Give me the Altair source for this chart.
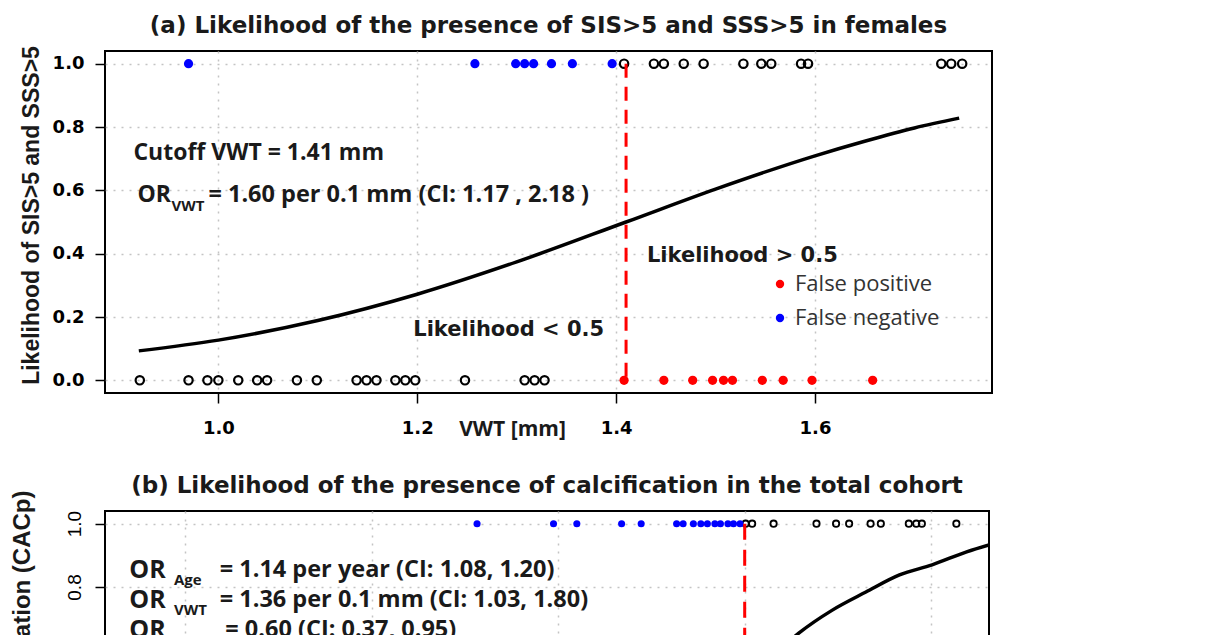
import altair as alt
import pandas as pd

# ---------------- Panel (a): females, VWT [mm] values ----------------
a_true_pos = [1.408, 1.438, 1.448, 1.468, 1.488, 1.528, 1.546, 1.556, 1.586, 1.593, 1.727, 1.737, 1.748]
a_false_neg = [0.970, 1.258, 1.299, 1.308, 1.317, 1.335, 1.356, 1.396]
a_true_neg = [0.921, 0.970, 0.989, 1.000, 1.020, 1.039, 1.049, 1.079, 1.099, 1.139, 1.149, 1.159,
              1.178, 1.188, 1.198, 1.248, 1.308, 1.318, 1.328]
a_false_pos = [1.408, 1.448, 1.477, 1.497, 1.508, 1.517, 1.547, 1.568, 1.597, 1.658]

a_curve_vwt = [0.92, 1.00, 1.10, 1.20, 1.30, 1.41, 1.50, 1.60, 1.65, 1.70, 1.745]
a_curve_p = [0.093, 0.127, 0.189, 0.272, 0.374, 0.50, 0.604, 0.709, 0.755, 0.797, 0.828]
a_cutoff = [1.41]

# ---------------- Panel (b): total cohort ----------------
b_false_neg = [1.313, 1.395, 1.420, 1.468, 1.489, 1.527, 1.534, 1.545, 1.553, 1.560, 1.568, 1.574,
               1.582, 1.588, 1.595]
b_true_pos = [1.601, 1.608, 1.631, 1.677, 1.698, 1.712, 1.735, 1.746, 1.776, 1.784, 1.790, 1.827]
b_curve_x = [1.60, 1.63, 1.658, 1.694, 1.730, 1.766, 1.801, 1.838, 1.862]
b_curve_p = [0.50, 0.58, 0.654, 0.727, 0.784, 0.838, 0.870, 0.911, 0.933]
b_cutoff = [1.60]

x_ticks_a = [1.0, 1.2, 1.4, 1.6]
x_ticks_b = [1.0, 1.2, 1.4, 1.6, 1.8]
y_ticks = [0.0, 0.2, 0.4, 0.6, 0.8, 1.0]

ARIAL = "Liberation Sans"
WIDE = "DejaVu Sans"
CAL = "Open Sans"
TXT = "#1a1a1a"

# ---------------- tables ----------------
pts_a = pd.DataFrame({
    "vwt": a_true_pos + a_false_neg + a_true_neg + a_false_pos,
    "p": [1.0] * len(a_true_pos) + [1.0] * len(a_false_neg) + [0.0] * len(a_true_neg) + [0.0] * len(a_false_pos),
    "kind": ["Correct"] * len(a_true_pos) + ["False negative"] * len(a_false_neg)
            + ["Correct"] * len(a_true_neg) + ["False positive"] * len(a_false_pos),
})
curve_a = pd.DataFrame({"vwt": a_curve_vwt, "p": a_curve_p})
cut_a = pd.DataFrame({"vwt": a_cutoff, "lo": [0.0], "hi": [1.0]})

pts_b = pd.DataFrame({
    "vwt": b_false_neg + b_true_pos,
    "p": [1.0] * (len(b_false_neg) + len(b_true_pos)),
    "kind": ["False negative"] * len(b_false_neg) + ["Correct"] * len(b_true_pos),
})
curve_b = pd.DataFrame({"vwt": b_curve_x, "p": b_curve_p})
cut_b = pd.DataFrame({"vwt": b_cutoff, "lo": [0.0], "hi": [1.0]})


def label(text, x, y, font=CAL, size=20, weight="bold", align="left", color=TXT):
    return alt.Chart(pd.DataFrame({"t": [text]})).mark_text(
        font=font, fontSize=size, fontWeight=weight, align=align, baseline="middle", color=color
    ).encode(x=alt.datum(x), y=alt.datum(y), text="t:N")


# ---------------- panel (a) ----------------
xa = alt.X("vwt:Q", scale=alt.Scale(domain=[0.886, 1.778], nice=False, zero=False),
           axis=alt.Axis(values=x_ticks_a, format=".1f", labelFont=WIDE, labelFontSize=18,
                         labelFontWeight="bold", labelPadding=16, title="VWT [mm]",
                         titleFont=CAL, titleFontSize=21, titleFontWeight="bold",
                         titleX=407, titleY=36, titleAlign="center", titleBaseline="middle"))
ya = alt.Y("p:Q", scale=alt.Scale(domain=[-0.04, 1.04], nice=False),
           axis=alt.Axis(values=y_ticks, format=".1f", labelFont=WIDE, labelFontSize=18,
                         labelFontWeight="bold", labelPadding=11, title="Likelihood of SIS>5 and SSS>5",
                         titleFont=ARIAL, titleFontSize=23, titleFontWeight="bold",
                         minExtent=55, maxExtent=55, titlePadding=7, titleY=164))

base_a = alt.Chart(pts_a)
black_a = base_a.transform_filter(alt.datum.kind == "Correct").mark_point(
    filled=False, color="black", size=70, strokeWidth=2.2, opacity=1).encode(x=xa, y=ya)
col_a = base_a.transform_filter(alt.datum.kind != "Correct").mark_point(
    filled=True, size=85, opacity=1).encode(
    x="vwt:Q", y="p:Q",
    color=alt.Color("kind:N", scale=alt.Scale(domain=["False positive", "False negative"], range=["red", "blue"]),
                    legend=alt.Legend(orient="none", legendX=664, legendY=222, title=None,
                                      values=["False positive", "False negative"],
                                      labelFont=CAL, labelFontSize=22, labelColor="#333333",
                                      symbolType="circle", symbolSize=70, symbolStrokeWidth=0,
                                      rowPadding=12, labelOffset=4)))
line_a = alt.Chart(curve_a).mark_line(color="black", strokeWidth=3.5, interpolate="monotone").encode(
    x="vwt:Q", y="p:Q")
rule_a = alt.Chart(cut_a).mark_rule(color="#ff0000", strokeWidth=3, strokeDash=[14, 9]).encode(
    x="vwt:Q", y="hi:Q", y2="lo:Q")

ann_a = [
    label("Cutoff VWT = 1.41 mm", 0.9146, 0.719, size=23),
    label("OR", 0.9186, 0.584, size=23),
    label("VWT", 0.9528, 0.552, size=15),
    label("= 1.60 per 0.1 mm (CI: 1.17 , 2.18 )", 0.990, 0.584, size=23.5),
    label("Likelihood < 0.5", 1.196, 0.158, font=WIDE, size=21),
    label("Likelihood > 0.5", 1.431, 0.394, font=WIDE, size=21),
]

panel_a = alt.layer(black_a, col_a, line_a, rule_a, *ann_a).properties(
    width=887, height=342,
    title=alt.TitleParams("(a) Likelihood of the presence of SIS>5 and SSS>5 in females",
                          font=WIDE, fontSize=23, fontWeight="bold", anchor="middle",
                          frame="group", offset=8, color=TXT))

# ---------------- panel (b) ----------------
xb = alt.X("vwt:Q", scale=alt.Scale(domain=[0.914, 1.862], nice=False, zero=False),
           axis=alt.Axis(values=x_ticks_b, format=".1f", labelFont=ARIAL, labelFontSize=19,
                         labelPadding=10, title="VWT [mm]", titleFont=ARIAL, titleFontSize=20))
yb = alt.Y("p:Q", scale=alt.Scale(domain=[-0.04, 1.04], nice=False),
           axis=alt.Axis(values=y_ticks, format=".1f", labelFont=ARIAL, labelFontSize=19,
                         labelFontWeight="normal", labelAngle=-90, labelAlign="center",
                         labelBaseline="bottom", labelPadding=11,
                         title="Likelihood of calcification (CACp)",
                         titleFont=ARIAL, titleFontSize=24, titleFontWeight="bold",
                         minExtent=55, maxExtent=55, titlePadding=16))

base_b = alt.Chart(pts_b)
black_b = base_b.transform_filter(alt.datum.kind == "Correct").mark_point(
    filled=False, color="black", size=40, strokeWidth=1.8, opacity=1, clip=True).encode(x=xb, y=yb)
blue_b = base_b.transform_filter(alt.datum.kind == "False negative").mark_point(
    filled=True, color="blue", size=50, opacity=1, clip=True).encode(x="vwt:Q", y="p:Q")
line_b = alt.Chart(curve_b).mark_line(color="black", strokeWidth=3.5, interpolate="monotone", clip=True).encode(
    x="vwt:Q", y="p:Q")
rule_b = alt.Chart(cut_b).mark_rule(color="#ff0000", strokeWidth=3, strokeDash=[16, 10]).encode(
    x="vwt:Q", y="hi:Q", y2="lo:Q")

ann_b = [
    label("OR", 0.940, 0.854, size=25),
    label("Age", 0.988, 0.822, size=15),
    label("= 1.14 per year (CI: 1.08, 1.20)", 1.037, 0.854, size=23.5),
    label("OR", 0.940, 0.759, size=25),
    label("VWT", 0.988, 0.727, size=15),
    label("= 1.36 per 0.1 mm (CI: 1.03, 1.80)", 1.037, 0.759, size=23.5),
    label("OR", 0.940, 0.663, size=25),
    label("Gender", 0.988, 0.631, size=15),
    label("= 0.60 (CI: 0.37, 0.95)", 1.043, 0.663, size=23.5),
]

panel_b = alt.layer(black_b, blue_b, line_b, rule_b, *ann_b).properties(
    width=884, height=342,
    title=alt.TitleParams("(b) Likelihood of the presence of calcification in the total cohort",
                          font=WIDE, fontSize=23, fontWeight="bold", anchor="middle",
                          frame="group", offset=-8, color=TXT))

chart = alt.vconcat(panel_a, panel_b, spacing=118, bounds="flush").resolve_legend(
    color="independent").properties(
    padding={"left": 1, "top": 5, "right": 5, "bottom": 5}, background="white"
).configure_view(stroke="black", strokeWidth=2).configure_axis(
    domain=False, tickColor="black", tickWidth=1.5, tickSize=10, grid=True,
    gridColor="#c4c4c4", gridDash=[2, 6], gridWidth=1.5, labelColor="black", titleColor=TXT
)

chart.save("out.html", embed_options={"renderer": "svg", "actions": False})
